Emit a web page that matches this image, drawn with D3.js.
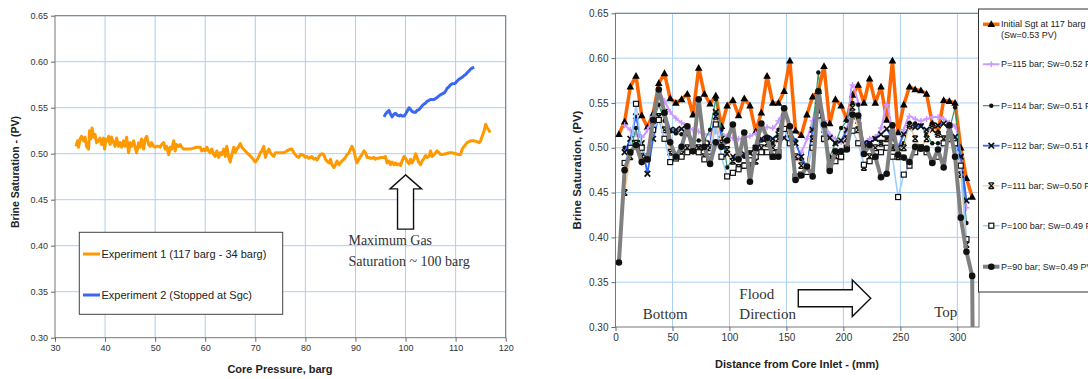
<!DOCTYPE html>
<meta charset="utf-8">
<head>
    <title>Brine Saturation</title>
</head>

<style>
    body { margin: 0; background: #fff; }
    svg text { font-family: "Liberation Sans", Arial, sans-serif; }
    .tick text { fill: #333; }
    .tick line { stroke: #666; }
    .grid line { stroke: #a9cff5; stroke-width: 1; }
    .frame { fill: none; stroke: #777; stroke-width: 1; }
    .serif { font-family: "Liberation Serif", "Times New Roman", serif !important; fill: #333; }
    .title { font-weight: bold; fill: #222; }
</style>

<body>
<script src="https://d3js.org/d3.v7.min.js"></script>
<script>

    // ---------- left chart : brine saturation vs core pressure ----------
    var pressureTicks = [30, 40, 50, 60, 70, 80, 90, 100, 110, 120];
    var satTicks = [0.30, 0.35, 0.40, 0.45, 0.50, 0.55, 0.60, 0.65];

    // Experiment 1 (117 barg - 34 barg) : [pressure, saturation]
    var exp1 = [
        [34.2,0.508],[34.5,0.514],[34.7,0.507],[35.0,0.516],[35.3,0.519],[35.7,0.514],[36.0,0.518],[36.3,0.508],
        [36.7,0.505],[36.9,0.525],[37.1,0.516],[37.4,0.528],[37.7,0.518],[38.0,0.521],[38.3,0.512],[38.7,0.514],
        [39.0,0.517],[39.3,0.510],[39.7,0.517],[39.9,0.505],[40.2,0.516],[40.5,0.514],[40.7,0.519],[41.0,0.510],
        [41.3,0.518],[41.7,0.512],[42.0,0.508],[42.3,0.517],[42.7,0.508],[43.0,0.512],[43.3,0.507],[43.7,0.514],
        [44.0,0.508],[44.3,0.518],[44.7,0.501],[45.0,0.512],[45.3,0.508],[45.7,0.514],[46.0,0.507],[46.3,0.501],
        [46.7,0.512],[47.0,0.507],[47.3,0.516],[47.7,0.505],[48.0,0.516],[48.3,0.519],[48.7,0.510],[49.0,0.508],
        [49.3,0.512],[49.7,0.508],[50.0,0.507],[50.3,0.508],[50.7,0.508],[51.0,0.507],[51.3,0.510],[51.7,0.512],
        [52.0,0.505],[52.3,0.508],[52.7,0.499],[53.0,0.507],[53.3,0.505],[53.7,0.514],[54.0,0.503],[54.3,0.510],
        [54.7,0.508],[55.0,0.510],[55.3,0.507],[55.7,0.505],[57.0,0.505],[58.3,0.507],[59.0,0.507],[59.3,0.503],
        [59.7,0.505],[60.0,0.503],[60.3,0.507],[60.7,0.503],[61.0,0.501],[61.3,0.505],[61.7,0.499],[62.0,0.497],
        [62.3,0.503],[62.7,0.496],[63.0,0.501],[63.3,0.499],[63.7,0.505],[64.0,0.497],[64.3,0.508],[64.7,0.496],
        [65.0,0.491],[65.3,0.499],[65.7,0.507],[66.0,0.501],[66.3,0.505],[66.7,0.508],[67.0,0.511],[67.3,0.507],
        [68.0,0.503],[68.7,0.499],[69.3,0.496],[70.0,0.491],[70.3,0.493],[70.7,0.497],[71.0,0.501],[71.3,0.503],
        [71.7,0.508],[72.0,0.496],[72.3,0.501],[72.7,0.505],[73.0,0.501],[73.3,0.499],[73.7,0.497],[74.0,0.501],
        [75.0,0.501],[75.7,0.501],[76.3,0.503],[77.0,0.505],[77.3,0.505],[77.7,0.501],[78.0,0.499],[78.3,0.497],
        [78.7,0.496],[79.0,0.499],[79.3,0.499],[79.7,0.498],[80.0,0.496],[80.3,0.497],[80.7,0.495],[81.0,0.496],
        [81.3,0.497],[81.7,0.494],[82.0,0.495],[82.3,0.493],[82.7,0.497],[83.0,0.499],[83.3,0.500],[83.7,0.499],
        [84.0,0.494],[84.3,0.492],[84.7,0.490],[85.0,0.494],[85.3,0.488],[85.7,0.485],[86.0,0.488],[86.3,0.492],
        [86.7,0.488],[87.0,0.490],[87.3,0.492],[87.7,0.494],[88.0,0.496],[88.3,0.499],[88.7,0.501],[89.0,0.505],
        [89.3,0.508],[89.7,0.503],[90.0,0.496],[90.3,0.490],[90.7,0.494],[91.0,0.497],[91.3,0.499],[91.7,0.503],
        [92.0,0.501],[92.3,0.496],[92.7,0.496],[93.0,0.495],[93.3,0.495],[93.7,0.496],[94.0,0.494],[94.3,0.495],
        [94.7,0.495],[95.0,0.496],[95.7,0.496],[96.0,0.497],[96.3,0.490],[96.7,0.492],[97.0,0.488],[97.3,0.491],
        [97.7,0.488],[98.0,0.490],[98.3,0.488],[98.7,0.489],[99.0,0.487],[99.3,0.492],[99.7,0.497],[100.0,0.495],
        [100.3,0.492],[100.7,0.489],[101.0,0.494],[101.3,0.490],[101.7,0.494],[102.0,0.500],[102.3,0.496],[102.7,0.490],
        [103.0,0.488],[103.3,0.492],[103.7,0.495],[104.0,0.498],[104.3,0.496],[104.7,0.497],[105.0,0.503],[105.3,0.497],
        [105.7,0.499],[106.0,0.501],[106.3,0.503],[106.7,0.501],[107.0,0.499],[107.3,0.499],[108.0,0.500],[108.7,0.501],
        [109.3,0.501],[110.0,0.500],[110.7,0.499],[111.0,0.499],[111.3,0.505],[111.7,0.508],[112.0,0.510],[112.3,0.512],
        [113.0,0.514],[113.7,0.514],[114.3,0.513],[114.7,0.512],[115.0,0.514],[115.3,0.519],[115.7,0.525],[116.0,0.532],
        [116.3,0.528],[116.7,0.525],[116.9,0.523]
    ];

    // Experiment 2 (Stopped at Sgc)
    var exp2 = [
        [95.7,0.540],[96.0,0.543],[96.3,0.545],[96.7,0.547],[97.0,0.543],[97.3,0.540],[97.7,0.543],[98.0,0.544],
        [98.3,0.542],[98.7,0.541],[99.0,0.542],[99.3,0.541],[99.7,0.541],[100.0,0.543],[100.3,0.546],[100.7,0.550],
        [101.0,0.548],[101.3,0.546],[101.7,0.545],[102.0,0.545],[102.3,0.547],[102.7,0.548],[103.0,0.550],[103.3,0.552],
        [103.7,0.554],[104.0,0.555],[104.3,0.557],[104.7,0.558],[105.0,0.559],[105.3,0.559],[105.7,0.559],[106.0,0.560],
        [106.3,0.561],[106.7,0.563],[107.0,0.564],[107.3,0.565],[107.7,0.566],[108.0,0.568],[108.3,0.571],[108.7,0.573],
        [109.0,0.575],[109.3,0.576],[109.7,0.576],[110.0,0.577],[110.3,0.579],[110.7,0.581],[111.0,0.582],[111.3,0.583],
        [111.7,0.585],[112.0,0.586],[112.3,0.588],[112.7,0.590],[113.0,0.592],[113.3,0.593],[113.7,0.594]
    ];

    // ---------- right chart : saturation profile along the core ----------
    var distTicks = [0, 50, 100, 150, 200, 250, 300];
    var positions = [3, 8, 13, 18, 23, 28, 33, 38, 43, 48, 53, 58, 63, 68, 73, 78, 83, 88, 93, 98, 103, 108,
        113, 118, 123, 128, 133, 138, 143, 148, 153, 158, 163, 168, 173, 178, 183, 188, 193, 198, 203, 208,
        213, 218, 223, 228, 233, 238, 243, 248, 253, 258, 263, 268, 273, 278, 283, 288, 293, 298, 303, 308, 313, 314];

    var sInitial = [0.515, 0.529, 0.568, 0.580, 0.536, 0.523, 0.538, 0.572, 0.583, 0.555, 0.550, 0.554, 0.560, 0.537,
        0.589, 0.560, 0.549, 0.558, 0.524, 0.547, 0.553, 0.536, 0.555, 0.547, 0.518, 0.539, 0.580, 0.550, 0.550,
        0.563, 0.597, 0.519, 0.514, 0.537, 0.557, 0.563, 0.591, 0.527, 0.554, 0.547, 0.532, 0.559, 0.570, 0.550,
        0.577, 0.550, 0.568, 0.531, 0.597, 0.517, 0.548, 0.568, 0.565, 0.564, 0.560, 0.527, 0.517, 0.553, 0.552,
        0.550, 0.500, 0.466, 0.445, null];
    var s115 = [null, 0.525, 0.520, 0.515, 0.512, 0.520, 0.535, 0.561, 0.552, 0.540, 0.533, 0.528, 0.524, 0.520,
        0.518, 0.515, 0.515, 0.518, 0.516, 0.513, 0.511, 0.510, 0.511, 0.513, 0.516, 0.520, 0.523, 0.522, 0.530,
        0.540, 0.522, 0.487, 0.495, 0.510, 0.530, 0.555, 0.530, 0.515, 0.510, 0.506, 0.520, 0.570, 0.550, 0.505,
        0.510, 0.512, 0.522, 0.548, 0.520, 0.502, 0.520, 0.535, 0.532, 0.530, 0.532, 0.534, 0.534, 0.532, 0.528,
        0.524, 0.490, 0.433, null, null];
    var s114 = [null, 0.500, 0.495, 0.522, 0.490, 0.488, 0.528, 0.548, 0.530, 0.518, 0.516, 0.515, 0.520, 0.508,
        0.508, 0.508, 0.520, 0.554, 0.520, 0.478, 0.487, 0.490, 0.490, 0.495, 0.497, 0.508, 0.510, 0.505, 0.520,
        0.545, 0.520, 0.508, 0.487, 0.480, 0.520, 0.584, 0.520, 0.490, 0.505, 0.522, 0.530, 0.550, 0.548, 0.500,
        0.505, 0.510, 0.505, 0.510, 0.500, 0.495, 0.505, 0.528, 0.527, 0.525, 0.515, 0.505, 0.505, 0.505, 0.520,
        0.545, 0.490, 0.416, null, null];
    var s112 = [null, 0.495, 0.510, 0.535, 0.505, 0.471, 0.510, 0.535, 0.540, 0.520, 0.520, 0.521, 0.515, 0.500,
        0.500, 0.500, 0.505, 0.540, 0.510, 0.493, 0.490, 0.490, 0.493, 0.494, 0.500, 0.510, 0.510, 0.510, 0.515,
        0.511, 0.520, 0.505, 0.490, 0.478, 0.520, 0.547, 0.520, 0.511, 0.505, 0.508, 0.520, 0.535, 0.530, 0.505,
        0.505, 0.510, 0.515, 0.521, 0.510, 0.500, 0.515, 0.522, 0.523, 0.524, 0.520, 0.520, 0.525, 0.527, 0.520,
        0.512, 0.490, 0.441, null, null];
    var s111 = [null, 0.450, 0.490, 0.505, 0.490, 0.490, 0.530, 0.535, 0.520, 0.495, 0.490, 0.493, 0.500, 0.497,
        0.500, 0.490, 0.500, 0.535, 0.505, 0.498, 0.485, 0.478, 0.480, 0.480, 0.485, 0.500, 0.505, 0.500, 0.510,
        0.540, 0.510, 0.490, 0.480, 0.477, 0.510, 0.540, 0.510, 0.485, 0.490, 0.490, 0.510, 0.545, 0.520, 0.478,
        0.490, 0.500, 0.505, 0.510, 0.500, 0.490, 0.500, 0.525, 0.510, 0.500, 0.510, 0.525, 0.515, 0.510, 0.510,
        0.500, 0.470, 0.392, null, null];
    var s100 = [null, 0.483, 0.500, 0.549, 0.500, 0.488, 0.520, 0.531, 0.510, 0.484, 0.488, 0.490, 0.495, 0.497,
        0.495, 0.487, 0.490, 0.526, 0.490, 0.468, 0.472, 0.476, 0.480, 0.486, 0.490, 0.495, 0.495, 0.490, 0.495,
        0.521, 0.505, 0.468, 0.470, 0.473, 0.500, 0.536, 0.510, 0.478, 0.485, 0.490, 0.500, 0.519, 0.505, 0.481,
        0.485, 0.490, 0.495, 0.500, 0.490, 0.445, 0.470, 0.480, 0.495, 0.500, 0.495, 0.485, 0.490, 0.505, 0.510,
        0.505, 0.480, 0.398, null, null];
    var s90 = [0.372, 0.475, 0.495, 0.503, 0.484, 0.487, 0.531, 0.565, 0.539, 0.506, 0.490, 0.501, 0.524, 0.496,
        0.554, 0.501, 0.482, 0.506, 0.501, 0.508, 0.526, 0.487, 0.517, 0.462, 0.500, 0.527, 0.511, 0.490, 0.490,
        0.544, 0.524, 0.464, 0.469, 0.479, 0.468, 0.563, 0.526, 0.474, 0.496, 0.496, 0.498, 0.537, 0.536, 0.493,
        0.503, 0.490, 0.467, 0.471, 0.525, 0.492, 0.489, 0.484, 0.501, 0.499, 0.499, 0.483, 0.498, 0.478, 0.525,
        0.490, 0.422, 0.384, 0.357, 0.200];

    var profileNames = ["Initial Sgt at 117 barg|(Sw=0.53 PV)", "P=115 bar; Sw=0.52 PV", "P=114 bar; Sw=0.51 PV",
        "P=112 bar; Sw=0.51 PV", "P=111 bar; Sw=0.50 PV", "P=100 bar; Sw=0.49 PV", "P=90 bar; Sw=0.49 PV"];
    var profileValues = [sInitial, s115, s114, s112, s111, s100, s90];

    // styles for each profile (same order as names)
    var profileStyle = [
        { color: "#ff6600", width: 3.5, marker: "triangle" },
        { color: "#cc99ff", width: 2, marker: "plus", smooth: true },
        { color: "#339966", width: 1.2, marker: "dot" },
        { color: "#3366ff", width: 1.8, marker: "x" },
        { color: "#ffcc99", width: 1.5, marker: "star" },
        { color: "#99ccff", width: 1.5, marker: "square" },
        { color: "#808080", width: 4, marker: "circle" }
    ];

    var svg = d3.select("body").append("svg")
        .attr("width", 1088)
        .attr("height", 379);

    // draw one marker at (0,0) inside g
    function marker(g, type, color) {
        if (type == "triangle") {
            g.append("path").attr("d", "M0,-4L3.8,2.8L-3.8,2.8Z").attr("fill", "#000");
        } else if (type == "plus") {
            g.append("path").attr("d", "M-3,0H3M0,-3V3").attr("stroke", color).attr("stroke-width", 1.4);
        } else if (type == "dot") {
            g.append("circle").attr("r", 2.2).attr("fill", "#111");
        } else if (type == "x") {
            g.append("path").attr("d", "M-2.8,-2.8L2.8,2.8M-2.8,2.8L2.8,-2.8").attr("stroke", "#111").attr("stroke-width", 1.7);
        } else if (type == "star") {
            g.append("path").attr("d", "M-2.8,-2.8L2.8,2.8M-2.8,2.8L2.8,-2.8M-2.5,-2.8H2.5M-2.5,2.8H2.5").attr("stroke", "#111").attr("stroke-width", 1.3);
        } else if (type == "square") {
            g.append("rect").attr("x", -2.5).attr("y", -2.5).attr("width", 5).attr("height", 5)
                .attr("fill", "#fff").attr("stroke", "#111").attr("stroke-width", 1.2);
        } else if (type == "circle") {
            g.append("circle").attr("r", 3.3).attr("fill", "#111");
        }
    }

    function panel(x, y, xTicks, yTicks, fontSize, clipId) {
        var x0 = x.range()[0], x1 = x.range()[1], y0 = y.range()[1], y1 = y.range()[0];

        svg.append("clipPath").attr("id", clipId)
            .append("rect").attr("x", x0).attr("y", y0).attr("width", x1 - x0).attr("height", y1 - y0);

        var grid = svg.append("g").attr("class", "grid");
        grid.selectAll(".v").data(xTicks.slice(1)).enter().append("line")
            .attr("x1", function (d) { return x(d); }).attr("x2", function (d) { return x(d); })
            .attr("y1", y0).attr("y2", y1);
        grid.selectAll(".h").data(yTicks.slice(1)).enter().append("line")
            .attr("x1", x0).attr("x2", x1)
            .attr("y1", function (d) { return y(d); }).attr("y2", function (d) { return y(d); });

        svg.append("rect").attr("class", "frame")
            .attr("x", x0).attr("y", y0).attr("width", x1 - x0).attr("height", y1 - y0);

        var ax = svg.append("g").attr("transform", "translate(0," + y1 + ")")
            .call(d3.axisBottom(x).tickValues(xTicks).tickSize(4).tickPadding(3).tickFormat(d3.format("d")));
        var ay = svg.append("g").attr("transform", "translate(" + x0 + ",0)")
            .call(d3.axisLeft(y).tickValues(yTicks).tickSize(4).tickPadding(3).tickFormat(d3.format(".2f")));
        ax.select(".domain").remove();
        ay.select(".domain").remove();
        ax.selectAll("text").style("font-size", fontSize + "px").style("font-family", "Liberation Sans, Arial");
        ay.selectAll("text").style("font-size", fontSize + "px").style("font-family", "Liberation Sans, Arial");
    }

    // ----- left -----
    var xL = d3.scaleLinear().domain([30, 120]).range([55, 505.7]);
    var yL = d3.scaleLinear().domain([0.30, 0.65]).range([337.7, 15.7]);
    panel(xL, yL, pressureTicks, satTicks, 9, "clipL");

    var lineL = d3.line()
        .x(function (d) { return xL(d[0]); })
        .y(function (d) { return yL(d[1]); });

    svg.append("path").datum(exp1).attr("d", lineL)
        .attr("fill", "none").attr("stroke", "#ff9900").attr("stroke-width", 3).attr("stroke-linejoin", "round");
    svg.append("path").datum(exp2).attr("d", lineL)
        .attr("fill", "none").attr("stroke", "#3a66f2").attr("stroke-width", 3).attr("stroke-linejoin", "round");

    svg.append("text").attr("class", "title").attr("x", 280).attr("y", 373)
        .attr("text-anchor", "middle").style("font-size", "11px").text("Core Pressure, barg");
    svg.append("text").attr("class", "title")
        .attr("transform", "translate(15,172) rotate(-90)").attr("dy", "0.35em")
        .attr("text-anchor", "middle").style("font-size", "10.5px").text("Brine Saturation - (PV)");

    // legend left
    svg.append("rect").attr("x", 79.3).attr("y", 232.3).attr("width", 203.4).attr("height", 82)
        .attr("fill", "#fff").attr("stroke", "#444").attr("stroke-width", 1);
    [["Experiment 1 (117 barg - 34 barg)", "#ff9900", 254], ["Experiment 2 (Stopped at Sgc)", "#3a66f2", 295]]
        .forEach(function (e) {
            svg.append("line").attr("x1", 83).attr("x2", 100).attr("y1", e[2]).attr("y2", e[2])
                .attr("stroke", e[1]).attr("stroke-width", 3);
            svg.append("text").attr("x", 101.5).attr("y", e[2]).attr("dy", "0.35em")
                .style("font-size", "11px").attr("fill", "#222").text(e[0]);
        });

    // up arrow pointing at the maximum gas saturation
    var tipX = xL(100), tipY = yL(0.477);
    svg.append("path")
        .attr("d", "M" + tipX + "," + tipY + "L" + (tipX + 16) + "," + (tipY + 14) + "L" + (tipX + 8) + "," + (tipY + 14) +
            "L" + (tipX + 8) + "," + yL(0.418) + "L" + (tipX - 8) + "," + yL(0.418) + "L" + (tipX - 8) + "," + (tipY + 14) +
            "L" + (tipX - 15.5) + "," + (tipY + 14) + "Z")
        .attr("fill", "#fff").attr("stroke", "#111").attr("stroke-width", 1.4);
    svg.append("text").attr("class", "serif").attr("x", xL(88.6)).attr("y", yL(0.4008))
        .style("font-size", "14px").text("Maximum Gas");
    svg.append("text").attr("class", "serif").attr("x", xL(88.6)).attr("y", yL(0.3783))
        .style("font-size", "14px").text("Saturation ~ 100 barg");

    // ----- right -----
    var xR = d3.scaleLinear().domain([0, 319]).range([615.5, 979]);
    var yR = d3.scaleLinear().domain([0.30, 0.65]).range([327, 13.3]);
    panel(xR, yR, distTicks, satTicks, 10, "clipR");

    var plot = svg.append("g").attr("clip-path", "url(#clipR)");

    profileValues.forEach(function (vals, i) {
        var st = profileStyle[i];
        var pts = positions.map(function (p, j) { return [p, vals[j]]; })
            .filter(function (d) { return d[1] != null; });
        var line = d3.line()
            .x(function (d) { return xR(d[0]); })
            .y(function (d) { return yR(d[1]); })
            .curve(st.smooth ? d3.curveCatmullRom.alpha(0.5) : d3.curveLinear);
        plot.append("path").datum(pts).attr("d", line)
            .attr("fill", "none").attr("stroke", st.color).attr("stroke-width", st.width)
            .attr("stroke-linejoin", "round");
        plot.selectAll(".m" + i).data(pts).enter().append("g")
            .attr("transform", function (d) { return "translate(" + xR(d[0]) + "," + yR(d[1]) + ")"; })
            .each(function () { marker(d3.select(this), st.marker, st.color); });
    });

    svg.append("text").attr("class", "title").attr("x", 797).attr("y", 368)
        .attr("text-anchor", "middle").style("font-size", "11px").text("Distance from Core Inlet - (mm)");
    svg.append("text").attr("class", "title")
        .attr("transform", "translate(577,170) rotate(-90)").attr("dy", "0.35em")
        .attr("text-anchor", "middle").style("font-size", "11.5px").text("Brine Saturation, (PV)");

    // flood direction arrow + labels
    var ay0 = yR(0.332);
    var ax0 = xR(160.4), ax1 = xR(207.8), ax2 = xR(224);
    svg.append("path")
        .attr("d", "M" + ax0 + "," + (ay0 - 8.5) + "L" + ax1 + "," + (ay0 - 8.5) + "L" + ax1 + "," + (ay0 - 18.3) +
            "L" + ax2 + "," + ay0 + "L" + ax1 + "," + (ay0 + 18.3) + "L" + ax1 + "," + (ay0 + 8.5) +
            "L" + ax0 + "," + (ay0 + 8.5) + "Z")
        .attr("fill", "#fff").attr("stroke", "#111").attr("stroke-width", 1.4);
    svg.append("text").attr("class", "serif").attr("x", xR(23.9)).attr("y", yR(0.3086))
        .style("font-size", "15px").text("Bottom");
    svg.append("text").attr("class", "serif").attr("x", xR(108.7)).attr("y", yR(0.3312))
        .style("font-size", "15px").text("Flood");
    svg.append("text").attr("class", "serif").attr("x", xR(108.7)).attr("y", yR(0.3086))
        .style("font-size", "15px").text("Direction");
    svg.append("text").attr("class", "serif").attr("x", xR(279.7)).attr("y", yR(0.3106))
        .style("font-size", "15px").text("Top");

    // legend right
    svg.append("rect").attr("x", 978.5).attr("y", 9).attr("width", 130).attr("height", 283)
        .attr("fill", "#fff").attr("stroke", "#333").attr("stroke-width", 1);
    var legY = [24.3, 64.3, 105.7, 145.7, 185.7, 225.7, 266.7];
    profileNames.forEach(function (name, i) {
        var st = profileStyle[i];
        var g = svg.append("g");
        g.append("line").attr("x1", 983).attr("x2", 999.5).attr("y1", legY[i]).attr("y2", legY[i])
            .attr("stroke", st.color).attr("stroke-width", st.width);
        marker(g.append("g").attr("transform", "translate(991.3," + legY[i] + ")"), st.marker, st.color);
        name.split("|").forEach(function (part, k) {
            g.append("text").attr("x", 1001).attr("y", legY[i] + k * 10.4).attr("dy", "0.35em")
                .style("font-size", "9px").attr("fill", "#222").text(part);
        });
    });

</script>
</body>
</html>
